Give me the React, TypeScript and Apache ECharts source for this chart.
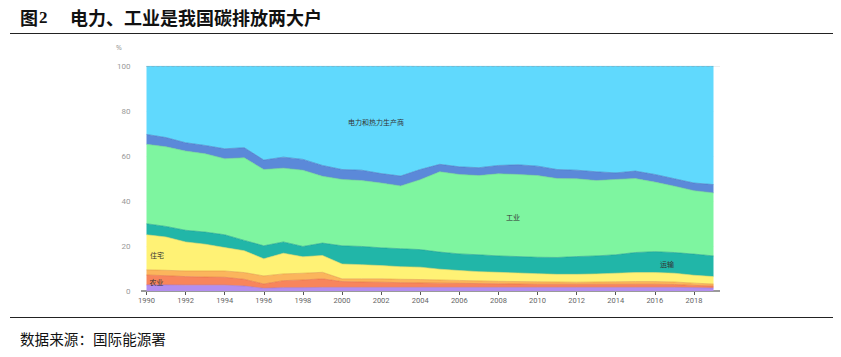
import React, { useEffect, useRef } from "react";
import * as echarts from "echarts";

const years = [
  "1990", "1991", "1992", "1993", "1994", "1995", "1996", "1997", "1998", "1999",
  "2000", "2001", "2002", "2003", "2004", "2005", "2006", "2007", "2008", "2009",
  "2010", "2011", "2012", "2013", "2014", "2015", "2016", "2017", "2018", "2019",
];

// shares in % of total CO2 emissions, bottom to top
const fishery = [2.7, 2.7, 2.6, 2.6, 2.6, 2.2, 1.2, 1.5, 1.5, 1.6, 1.6, 1.6, 1.6, 1.6, 1.6, 1.6, 1.6, 1.6, 1.6, 1.6, 1.6, 1.6, 1.6, 1.6, 1.6, 1.6, 1.6, 1.6, 1.5, 1.3];
const agriculture = [4.4, 4.1, 3.8, 3.6, 3.5, 3.0, 1.9, 3.1, 3.4, 3.8, 2.6, 2.4, 2.3, 2.1, 2.0, 1.9, 1.8, 1.7, 1.6, 1.5, 1.4, 1.4, 1.4, 1.4, 1.4, 1.4, 1.4, 1.3, 1.0, 0.9];
const commercial = [2.3, 2.4, 2.5, 2.7, 2.8, 3.0, 3.6, 3.0, 3.0, 2.9, 1.2, 1.4, 1.5, 1.5, 1.5, 1.4, 1.3, 1.2, 1.1, 1.1, 1.1, 1.0, 0.9, 1.0, 1.1, 1.2, 1.2, 1.1, 1.0, 0.9];
const residential = [15.6, 14.8, 12.9, 11.9, 10.4, 9.7, 7.6, 9.2, 7.3, 7.5, 6.6, 6.3, 5.9, 5.6, 5.5, 4.8, 4.4, 4.1, 4.0, 3.8, 3.6, 3.4, 3.5, 3.6, 3.8, 4.0, 4.0, 3.9, 3.5, 3.3];
const transport = [4.9, 4.7, 5.2, 5.4, 5.7, 4.6, 5.8, 5.0, 4.6, 5.5, 8.1, 8.1, 7.9, 8.0, 7.8, 7.6, 7.4, 7.5, 7.3, 7.3, 7.3, 7.5, 7.9, 8.0, 8.2, 8.9, 9.3, 9.2, 9.4, 9.2];
const industry = [35.3, 35.4, 35.2, 34.8, 33.8, 36.7, 33.9, 32.8, 33.9, 29.7, 29.5, 29.3, 28.8, 27.9, 31.1, 35.7, 35.3, 35.2, 36.5, 36.5, 36.3, 35.1, 34.6, 33.5, 33.5, 32.9, 30.9, 29.5, 28.2, 28.0];
const otherEnergy = [4.4, 4.1, 3.7, 3.7, 4.4, 4.5, 4.2, 4.9, 4.8, 4.8, 4.4, 4.6, 4.2, 4.4, 4.5, 3.3, 3.4, 3.5, 3.7, 4.3, 4.2, 4.0, 3.8, 3.9, 2.9, 3.3, 3.4, 3.3, 3.4, 3.7];
const power = [30.4, 31.8, 34.1, 35.3, 36.8, 36.3, 41.8, 40.5, 41.5, 44.2, 46.0, 46.3, 47.8, 49.0, 46.0, 43.7, 44.8, 45.2, 44.2, 43.9, 44.5, 46.0, 46.3, 47.0, 47.5, 46.7, 48.2, 50.1, 52.0, 52.7];

const seriesNames = ["渔业", "农业", "商业和公共服务", "住宅", "运输", "工业", "其他能源工业", "电力和热力生产商"];
const seriesData = [fishery, agriculture, commercial, residential, transport, industry, otherEnergy, power];
const seriesColors = ["#b38ef0", "#f8855c", "#fbb55c", "#fff275", "#21b6a8", "#7ef5a0", "#5b89d9", "#60d9fd"];
const lineColors = ["#9a76d8", "#e06e48", "#e09a45", "#e6d860", "#1c9c90", "#6cd88a", "#4a74c0", "#52bfe0"];

const title = "电力、工业是我国碳排放两大户";
const source = "数据来源：国际能源署";

export default function App() {
  const ref = useRef<HTMLDivElement>(null);
  useEffect(() => {
    if (!ref.current) return;
    const chart = echarts.init(ref.current, null, { renderer: "svg" });
    const series = seriesNames.map((name, i) => ({
      name,
      type: "line",
      stack: "total",
      data: seriesData[i],
      symbol: "none",
      smooth: false,
      lineStyle: { width: 0.6, color: lineColors[i] },
      areaStyle: { color: seriesColors[i], opacity: 1 },
      itemStyle: { color: seriesColors[i] },
      z: 2,
    }));
    chart.setOption({
      animation: false,
      backgroundColor: "#ffffff",
      grid: { left: 146.5, right: 127.5, top: 66, bottom: 66 },
      xAxis: {
        type: "category",
        data: years,
        boundaryGap: false,
        axisLine: { show: true, lineStyle: { color: "#9a9a9a", width: 2 } },
        axisTick: { show: true, interval: 1, length: 4, lineStyle: { color: "#555", width: 1 } },
        axisLabel: { interval: 1, fontSize: 7.5, color: "#666", margin: 5, fontFamily: "Roboto" },
        splitLine: { show: false },
      },
      yAxis: {
        type: "value",
        min: 0,
        max: 100,
        interval: 20,
        axisLine: { show: false },
        axisTick: { show: false },
        axisLabel: { fontSize: 8, color: "#9a9a9a", margin: 16, fontFamily: "Roboto" },
        splitLine: { show: true, lineStyle: { color: "#eeeeee", width: 1 } },
      },
      series,
      graphic: [
        { type: "text", left: 20, top: 8, style: { text: "图", font: "bold 18px 'Noto Sans CJK SC'", fill: "#111" } },
        { type: "text", left: 39, top: 9, style: { text: "2", font: "bold 17px 'Liberation Serif'", fill: "#111" } },
        { type: "text", left: 70, top: 8, style: { text: title, font: "bold 18px 'Noto Sans CJK SC'", fill: "#111" } },
        { type: "line", shape: { x1: 10, y1: 33.5, x2: 833, y2: 33.5 }, style: { stroke: "#222", lineWidth: 1 } },
        { type: "line", shape: { x1: 10, y1: 317.5, x2: 833, y2: 317.5 }, style: { stroke: "#222", lineWidth: 1 } },
        { type: "text", left: 20, top: 331, style: { text: source, font: "14.6px 'Noto Sans CJK SC'", fill: "#111" } },
        { type: "text", left: 116, top: 44, style: { text: "%", font: "7px 'Noto Sans'", fill: "#999" } },
        { type: "line", shape: { x1: 141, y1: 291, x2: 720, y2: 291 }, style: { stroke: "#9a9a9a", lineWidth: 2 }, z: 1 },
        { type: "line", shape: { x1: 713, y1: 66.5, x2: 720, y2: 66.5 }, style: { stroke: "#eeeeee", lineWidth: 1 } },
        { type: "line", shape: { x1: 146.5, y1: 66.5, x2: 713, y2: 66.5 }, style: { stroke: "#8aa8b8", lineWidth: 1, lineDash: [3, 2], opacity: 0.6 }, z: 10 },
        { type: "text", x: 376, y: 122, style: { text: "电力和热力生产商", font: "7px 'Noto Sans CJK SC'", fill: "#333", align: "center", verticalAlign: "middle" }, z: 10 },
        { type: "text", x: 513, y: 217, style: { text: "工业", font: "7px 'Noto Sans CJK SC'", fill: "#333", align: "center", verticalAlign: "middle" }, z: 10 },
        { type: "text", x: 667, y: 264, style: { text: "运输", font: "7px 'Noto Sans CJK SC'", fill: "#333", align: "center", verticalAlign: "middle" }, z: 10 },
        { type: "text", x: 157, y: 255, style: { text: "住宅", font: "7px 'Noto Sans CJK SC'", fill: "#333", align: "center", verticalAlign: "middle" }, z: 10 },
        { type: "text", x: 156.5, y: 281.5, style: { text: "农业", font: "7px 'Noto Sans CJK SC'", fill: "#333", align: "center", verticalAlign: "middle" }, z: 10 },
      ],
    });
    return () => chart.dispose();
  }, []);
  return (
    <div
      ref={ref}
      style={{ position: "fixed", left: 0, top: 0, width: 841, height: 357, background: "#fff" }}
    />
  );
}
